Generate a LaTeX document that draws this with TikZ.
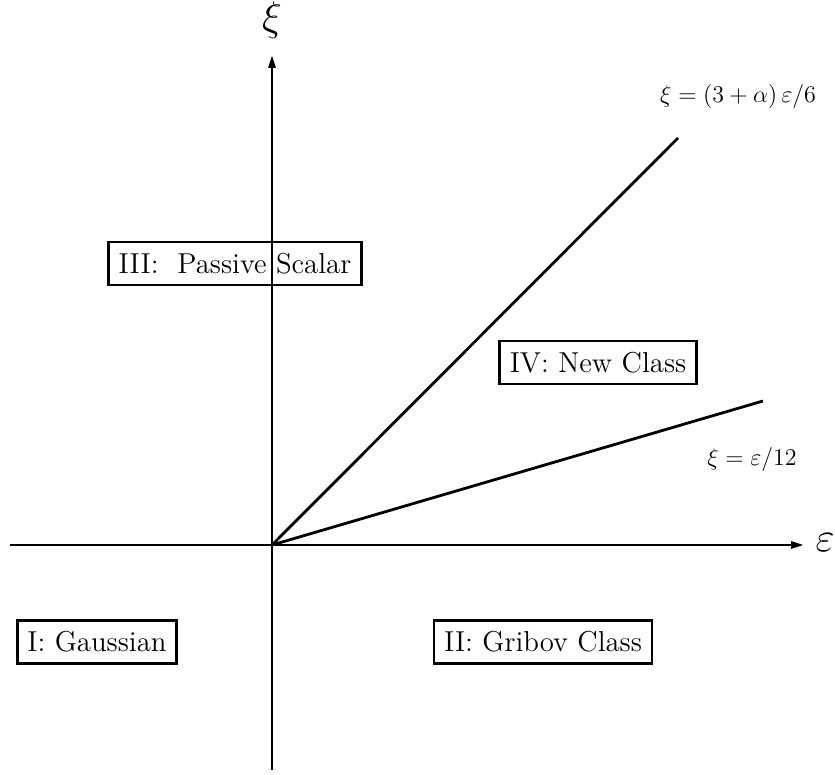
\documentclass[tikz,border=0pt]{standalone}
\usepackage{amsmath,amssymb}
\usepackage{tikz}
\usetikzlibrary{arrows.meta}
\tikzset{region/.style={draw,line width=1.4pt,inner xsep=5pt,minimum height=21.5pt,font=\fontsize{14.4}{17}\selectfont}}

\begin{document}
\begin{tikzpicture}[x=0.5pt,y=0.5pt,line width=1.4pt,>={Triangle[length=6.5pt,width=3.5pt]}]
\useasboundingbox (0,0) rectangle (835,775);
% axes
\coordinate (O) at (272,230);
\coordinate (W) at (10,230);
\coordinate (E) at (804,230);
\coordinate (S) at (272,5);
\coordinate (N) at (272,720);
\draw[->] (W) -- (E);
\draw[->] (S) -- (N);
\node (epslab) at (825,232) {\fontsize{22}{22}\selectfont$\varepsilon$};
\node (xilab) at (272,755) {\fontsize{20}{20}\selectfont$\xi$};
% boundary lines
\coordinate (A) at (678,637);
\coordinate (B) at (763,374);
\draw (O) -- (A);
\draw (O) -- (B);
\node[font=\fontsize{12}{14}\selectfont] (labA) at (738,678) {$\xi=(3+\alpha)\,\varepsilon/6$};
\node[font=\fontsize{12}{14}\selectfont] (labB) at (752,315) {$\xi=\varepsilon/12$};
% regions
\foreach \n/\x/\y/\t in {rI/97/133/{I: Gaussian},rII/543/133/{II: Gribov Class},
  rIII/235/511.5/{III: \ Passive Scalar},rIV/598/412.5/{IV: New Class}}
  \node[region] (\n) at (\x,\y) {\t};
\end{tikzpicture}
\end{document}
